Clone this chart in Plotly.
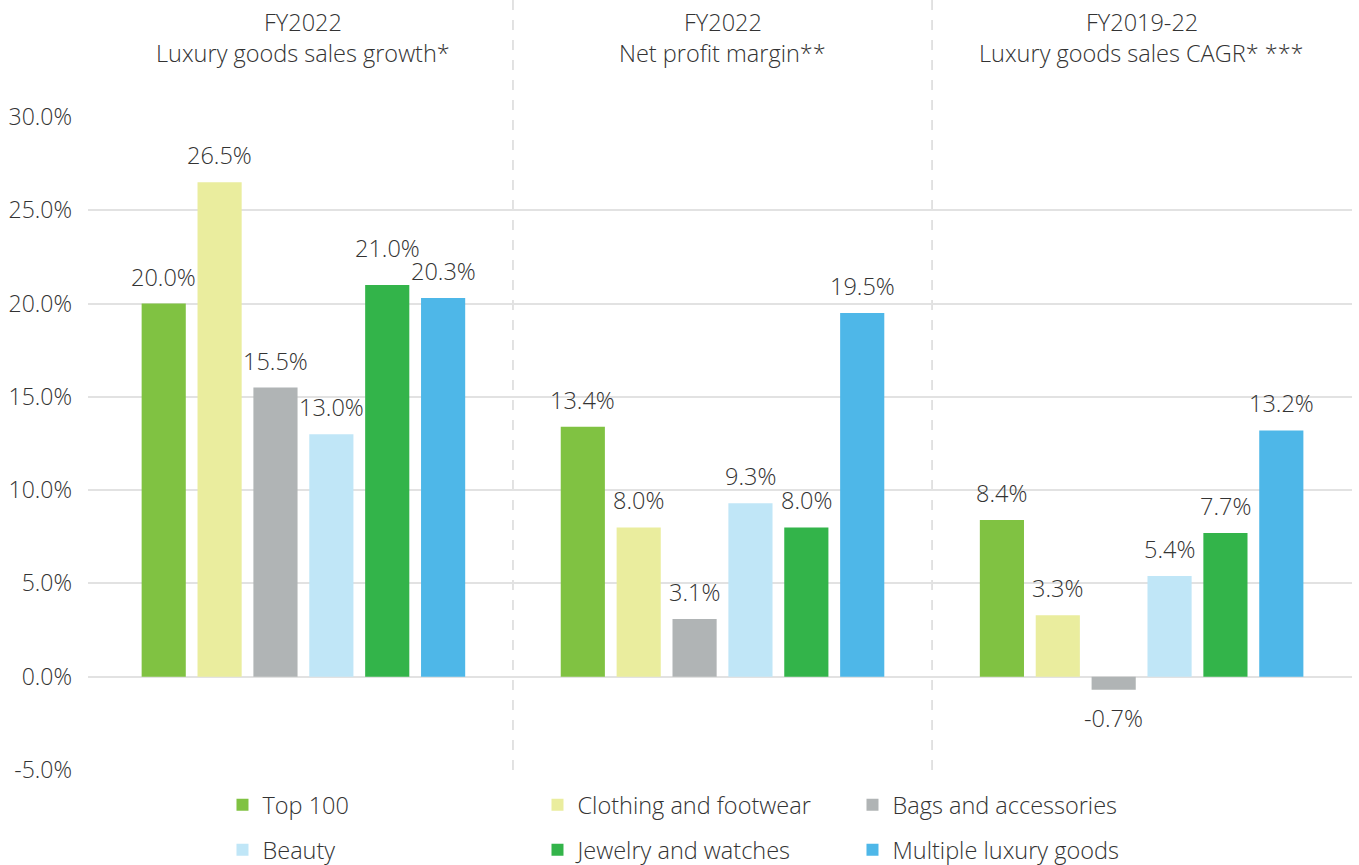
import plotly.graph_objects as go

# Metric panels (x positions 0, 1, 2)
panel_lines_top = ["FY2022", "FY2022", "FY2019-22"]
panel_lines_bottom = ["Luxury goods sales growth*", "Net profit margin**", "Luxury goods sales CAGR* ***"]

# Series values in percent, one value per panel
series_names = ["Top 100", "Clothing and footwear", "Bags and accessories",
                "Beauty", "Jewelry and watches", "Multiple luxury goods"]
top100 = [20.0, 13.4, 8.4]
clothing = [26.5, 8.0, 3.3]
bags = [15.5, 3.1, -0.7]
beauty = [13.0, 9.3, 5.4]
jewelry = [21.0, 8.0, 7.7]
multiple = [20.3, 19.5, 13.2]
series_values = [top100, clothing, bags, beauty, jewelry, multiple]
colors = ["#80c242", "#eaed9e", "#b0b4b5", "#c0e6f7", "#33b44a", "#4eb7e8"]

y_ticks = [-5, 0, 5, 10, 15, 20, 25, 30]

FONT = "Open Sans"
TEXT = "#333333"
BARGAP = 0.2
GROUPGAP = 0.21

# extra lift (px) for a label that would otherwise crowd its neighbour
label_lift = {(4, 0): 10}

panels = list(range(len(panel_lines_top)))
n = len(series_names)
slot = (1 - BARGAP) / n

fig = go.Figure()
for i, (name, vals, col) in enumerate(zip(series_names, series_values, colors)):
    fig.add_trace(go.Bar(
        x=panels, y=vals, name=name, marker=dict(color=col, line=dict(width=0)),
        legend="legend" if i < 3 else "legend2",
        hoverinfo="skip",
    ))
    # value labels above (or below) each bar
    for p, v in zip(panels, vals):
        xpos = p + (i - (n - 1) / 2) * slot
        shift = (9 + label_lift.get((i, p), 0)) if v >= 0 else -10
        fig.add_annotation(
            x=xpos, y=v, xref="x", yref="y", text=f"{v:.1f}%", showarrow=False,
            yanchor="bottom" if v >= 0 else "top", yshift=shift,
            font=dict(family=FONT, size=23.5, color=TEXT, weight=300),
        )

# panel headers
for p, t1, t2 in zip(panels, panel_lines_top, panel_lines_bottom):
    fig.add_annotation(x=p, y=1.1455, xref="x", yref="paper", text=t1, showarrow=False,
                       yanchor="middle", font=dict(family=FONT, size=23.5, color=TEXT, weight=300))
    fig.add_annotation(x=p, y=1.098, xref="x", yref="paper", text=t2, showarrow=False,
                       yanchor="middle", font=dict(family=FONT, size=23.5, color=TEXT, weight=300))

# dashed separators between panels
for xs in [0.5, 1.5]:
    fig.add_shape(type="line", x0=xs, x1=xs, xref="x", y0=0, y1=1.18, yref="paper",
                  line=dict(color="#d9d9d9", width=1.5, dash="10px,10px"), layer="below")

legend_font = dict(family=FONT, size=23.5, color=TEXT, weight=300)
fig.update_layout(
    width=1359, height=865,
    margin=dict(l=88, r=7, t=117, b=95, autoexpand=False),
    paper_bgcolor="white", plot_bgcolor="white",
    barmode="group", bargap=BARGAP, bargroupgap=GROUPGAP,
    font=dict(family=FONT, color=TEXT),
    xaxis=dict(range=[-0.514, 2.502], showticklabels=False, showgrid=False,
               zeroline=False, fixedrange=True),
    yaxis=dict(range=[-5, 30], tickvals=y_ticks, ticktext=[f"{t:.1f}%" for t in y_ticks],
               showgrid=True, gridcolor="#e2e2e2", gridwidth=1.5,
               zeroline=True, zerolinecolor="#e2e2e2", zerolinewidth=1.5,
               ticks="", ticklabelstandoff=15, automargin=False,
               tickfont=dict(family=FONT, size=23, color=TEXT, weight=300)),
    legend=dict(orientation="h", x=0.1064, xanchor="left", y=0.0694, yanchor="middle",
                yref="container", entrywidth=270, font=legend_font,
                itemclick=False, itemdoubleclick=False),
    legend2=dict(orientation="h", x=0.1064, xanchor="left", y=0.0173, yanchor="middle",
                 yref="container", entrywidth=270, font=legend_font,
                 itemclick=False, itemdoubleclick=False),
    showlegend=True,
)

fig.write_html("out.html")
